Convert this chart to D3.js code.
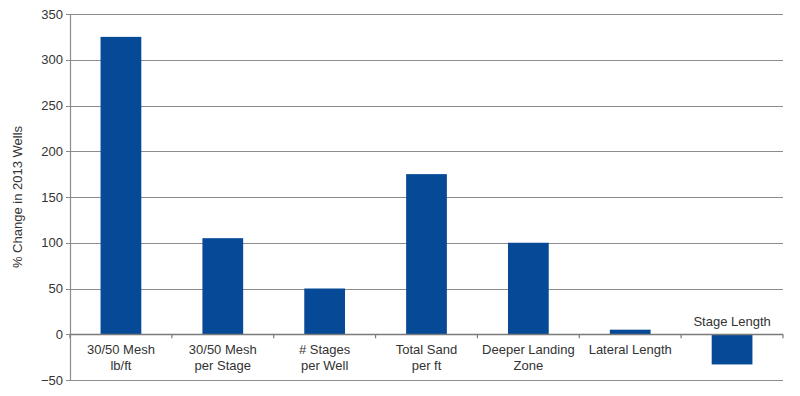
<!DOCTYPE html>
<html>
<head>
<meta charset="utf-8">
<script src="https://cdn.jsdelivr.net/npm/d3@7"></script>
<style>
  body { margin: 0; background: #fff; }
  text { font-family: "Liberation Sans", Arial, sans-serif; fill: #333; }
</style>
</head>
<body>
<svg id="chart" width="800" height="396"></svg>
<script>
// categorias y valores
const categorias = [
  ["30/50 Mesh", "lb/ft"],
  ["30/50 Mesh", "per Stage"],
  ["# Stages", "per Well"],
  ["Total Sand", "per ft"],
  ["Deeper Landing", "Zone"],
  ["Lateral Length"],
  ["Stage Length"]
]
const valores = [325, 105, 50, 175, 100, 5, -33]
const ticksY = [-50, 0, 50, 100, 150, 200, 250, 300, 350]

const width = 800, height = 396
const margin = {top: 14, right: 17, bottom: 16, left: 70}

const svg = d3.select('#chart')

const x = d3.scaleBand()
    .domain(d3.range(categorias.length))
    .range([margin.left, width - margin.right])

const y = d3.scaleLinear()
    .domain([-50, 350])
    .range([height - margin.bottom, margin.top])

// lineas de grilla
svg.append('g')
    .selectAll('line')
    .data(ticksY)
    .join('line')
    .attr('x1', margin.left - 4)
    .attr('x2', width - margin.right)
    .attr('y1', d => Math.round(y(d)) + 0.5)
    .attr('y2', d => Math.round(y(d)) + 0.5)
    .attr('stroke', '#8c8c8c')
    .attr('stroke-width', 1.2)

// etiquetas eje y
svg.append('g')
    .selectAll('text')
    .data(ticksY)
    .join('text')
    .attr('x', margin.left - 7)
    .attr('y', d => y(d))
    .attr('dy', '0.35em')
    .attr('text-anchor', 'end')
    .attr('font-size', 13)
    .text(d => d < 0 ? '\u2212' + Math.abs(d) : d)

// eje vertical
svg.append('line')
    .attr('x1', margin.left + 0.5).attr('x2', margin.left + 0.5)
    .attr('y1', y(350)).attr('y2', y(-50))
    .attr('stroke', '#8c8c8c')
    .attr('stroke-width', 1.2)

// barras
const barW = x.bandwidth() * 0.4
svg.append('g')
    .selectAll('rect')
    .data(valores)
    .join('rect')
    .attr('x', (d, i) => x(i) + (x.bandwidth() - barW) / 2)
    .attr('y', d => y(Math.max(0, d)))
    .attr('width', barW)
    .attr('height', d => Math.abs(y(d) - y(0)))
    .attr('fill', '#064a97')

// linea cero con marcas de categoria
svg.append('line')
    .attr('x1', margin.left).attr('x2', width - margin.right)
    .attr('y1', Math.round(y(0)) + 0.5).attr('y2', Math.round(y(0)) + 0.5)
    .attr('stroke', '#7a7a7a')
    .attr('stroke-width', 1.4)

svg.append('g')
    .selectAll('line')
    .data(d3.range(categorias.length + 1))
    .join('line')
    .attr('x1', i => i < categorias.length ? x(i) : width - margin.right)
    .attr('x2', i => i < categorias.length ? x(i) : width - margin.right)
    .attr('y1', y(0))
    .attr('y2', y(0) + 4)
    .attr('stroke', '#7a7a7a')
    .attr('stroke-width', 1.2)

// etiquetas de categoria
const etiquetas = svg.append('g')
    .selectAll('text')
    .data(categorias)
    .join('text')
    .attr('text-anchor', 'middle')
    .attr('font-size', 13)
    .attr('transform', (d, i) => {
        const cx = x(i) + x.bandwidth() / 2
        // valor negativo: etiqueta sobre la linea cero
        const cy = valores[i] < 0 ? y(0) - 8 : y(0) + 20
        return `translate(${cx},${cy})`
    })

etiquetas.selectAll('tspan')
    .data(d => d)
    .join('tspan')
    .attr('x', 0)
    .attr('dy', (d, j) => j === 0 ? 0 : 16)
    .text(d => d)

// titulo eje y
svg.append('text')
    .attr('transform', `translate(22,${(y(350) + y(-50)) / 2}) rotate(-90)`)
    .attr('text-anchor', 'middle')
    .attr('font-size', 13)
    .text('% Change in 2013 Wells')
</script>
</body>
</html>
